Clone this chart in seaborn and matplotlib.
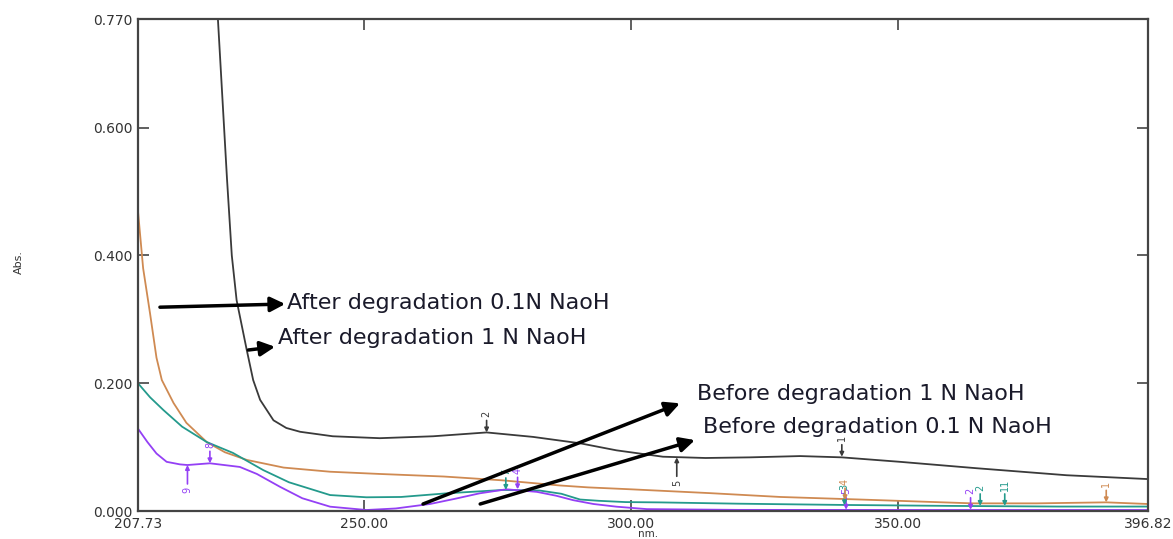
import matplotlib
matplotlib.use("Agg")
import matplotlib.pyplot as plt
import numpy as np
import pandas as pd
import seaborn as sns

# wavelength (nm) / absorbance
black_nm = [222.7, 224.4, 225.3, 226.2, 228.1, 229.3, 230.6, 233.1, 235.5, 238.1,
            244.2, 253.0, 263.0, 273.0, 281.7, 290.5, 297.3, 306.0, 314.0, 322.3,
            331.7, 339.5, 350.4, 364.7, 381.6, 396.8]
black_abs = [0.770, 0.520, 0.400, 0.330, 0.252, 0.205, 0.174, 0.142, 0.130, 0.124,
             0.117, 0.114, 0.117, 0.123, 0.116, 0.106, 0.095, 0.085, 0.083, 0.084,
             0.086, 0.084, 0.077, 0.067, 0.056, 0.050]

orange_nm = [207.73, 208.7, 210.0, 211.2, 212.2, 214.4, 216.8, 220.6, 224.0, 228.1,
             235.0, 243.7, 253.0, 265.0, 276.0, 286.7, 292.0, 300.0, 314.8, 328.0,
             342.9, 364.0, 376.0, 389.0, 396.8]
orange_abs = [0.470, 0.380, 0.309, 0.240, 0.205, 0.169, 0.138, 0.108, 0.092, 0.080,
              0.068, 0.0615, 0.058, 0.054, 0.048, 0.040, 0.037, 0.034, 0.028, 0.022,
              0.018, 0.012, 0.012, 0.0136, 0.011]

teal_nm = [207.73, 210.0, 212.5, 216.0, 220.6, 225.5, 231.2, 236.0, 243.7, 250.5,
           257.0, 265.5, 276.1, 283.0, 287.0, 290.5, 294.0, 299.0, 305.5, 320.0,
           340.0, 360.0, 380.0, 396.8]
teal_abs = [0.200, 0.178, 0.158, 0.132, 0.108, 0.091, 0.064, 0.045, 0.025, 0.0215,
            0.022, 0.0277, 0.033, 0.032, 0.027, 0.018, 0.016, 0.014, 0.0135, 0.0115,
            0.0095, 0.008, 0.007, 0.007]

purple_nm = [207.73, 209.5, 211.2, 213.1, 215.6, 217.0, 221.2, 226.8, 230.0, 234.3,
             238.5, 243.7, 250.5, 256.0, 262.4, 267.0, 271.7, 276.7, 282.4, 286.0,
             289.2, 293.0, 297.3, 303.0, 320.0, 360.0, 396.8]
purple_abs = [0.129, 0.108, 0.090, 0.077, 0.073, 0.072, 0.0747, 0.069, 0.058, 0.038,
              0.020, 0.0068, 0.0016, 0.004, 0.011, 0.019, 0.0277, 0.034, 0.030, 0.024,
              0.017, 0.011, 0.0068, 0.003, 0.0018, 0.0016, 0.0016]

# picked peaks / valleys: series, nm, abs, label
peak_series = ["black", "black", "black", "purple", "purple", "purple", "teal",
               "purple", "teal", "orange", "purple", "teal", "teal", "orange"]
peak_nm = [273.0, 308.6, 339.5, 217.0, 221.2, 278.8, 276.6,
           340.3, 340.0, 340.1, 363.6, 365.4, 370.0, 389.0]
peak_abs = [0.123, 0.084, 0.085, 0.072, 0.0747, 0.034, 0.033,
            0.002, 0.009, 0.017, 0.002, 0.008, 0.008, 0.0136]
peak_lbl = ["2", "5", "1", "9", "8", "4", "7", "5", "3", "4", "2", "2", "11", "1"]
peak_below = [False, True, False, True, False, False, False,
              False, False, False, False, False, False, False]

x_ticks = [207.73, 250.00, 300.00, 350.00, 396.82]
y_ticks = [0.000, 0.200, 0.400, 0.600, 0.770]

notes = ["After degradation 0.1N NaoH", "After degradation 1 N NaoH",
         "Before degradation 1 N NaoH", "Before degradation 0.1 N NaoH"]

colors = {"black": "#3a3a3a", "orange": "#cf8a52", "teal": "#249a8c", "purple": "#9440f5"}

frames = []
for name, xs, ys in [("black", black_nm, black_abs), ("orange", orange_nm, orange_abs),
                     ("teal", teal_nm, teal_abs), ("purple", purple_nm, purple_abs)]:
    frames.append(pd.DataFrame({"nm": xs, "abs": ys, "series": name}))
df = pd.concat(frames, ignore_index=True)

sns.set_theme(style="ticks")
plt.rcParams["font.family"] = ["DejaVu Sans"]

fig = plt.figure(figsize=(11.73, 5.39), dpi=100)
ax = fig.add_axes([0.1176, 0.0519, 0.8611, 0.9128])

sns.lineplot(data=df, x="nm", y="abs", hue="series", palette=colors,
             sort=False, estimator=None, legend=False, linewidth=1.3, ax=ax)

ax.set_xlim(x_ticks[0], x_ticks[-1])
ax.set_ylim(y_ticks[0], y_ticks[-1])
ax.set_xticks(x_ticks)
ax.set_xticklabels([f"{v:.2f}" for v in x_ticks])
ax.set_yticks(y_ticks)
ax.set_yticklabels([f"{v:.3f}" for v in y_ticks])
ax.tick_params(direction="in", length=8, width=1.2, color="#444444",
               top=True, right=True, labelsize=10, labelcolor="#333333", pad=4)
ax.tick_params(axis="x", pad=4)
for s in ax.spines.values():
    s.set_color("#444444")
    s.set_linewidth(1.6)

ax.set_xlabel("nm.", fontsize=7.5, color="#333333", va="center")
ax.xaxis.set_label_coords(0.505, -0.046)
ax.set_ylabel("Abs.", fontsize=8, color="#333333")
ax.yaxis.set_label_coords(-0.113, 0.506)

# peak pick marks
for ser, px, py, lab, below in zip(peak_series, peak_nm, peak_abs, peak_lbl, peak_below):
    off = -16 if below else 11
    ax.annotate(lab, xy=(px, py), xytext=(0, off), textcoords="offset points",
                rotation=90, ha="center", va="top" if below else "bottom",
                fontsize=7, color=colors[ser],
                arrowprops=dict(arrowstyle="-|>", color=colors[ser], lw=1.2,
                                mutation_scale=6, shrinkA=0, shrinkB=0))

# arrows with captions
arrow_from = [(211.85, 0.319), (228.4, 0.252), (261.1, 0.011), (271.8, 0.011)]
arrow_to = [(235.3, 0.324), (233.4, 0.257), (309.2, 0.1686), (312.0, 0.111)]
text_at = [(235.6, 0.3255), (233.9, 0.2707), (312.4, 0.183), (313.5, 0.1315)]
for (x0, y0), (x1, y1), (tx, ty), t in zip(arrow_from, arrow_to, text_at, notes):
    ax.annotate("", xy=(x1, y1), xytext=(x0, y0),
                arrowprops=dict(arrowstyle="-|>", color="black", lw=2.5,
                                mutation_scale=22, shrinkA=0, shrinkB=0))
    ax.text(tx, ty, t, fontsize=16, color="#1a1a2a", ha="left", va="center")

fig.savefig("out.png", dpi=100)
